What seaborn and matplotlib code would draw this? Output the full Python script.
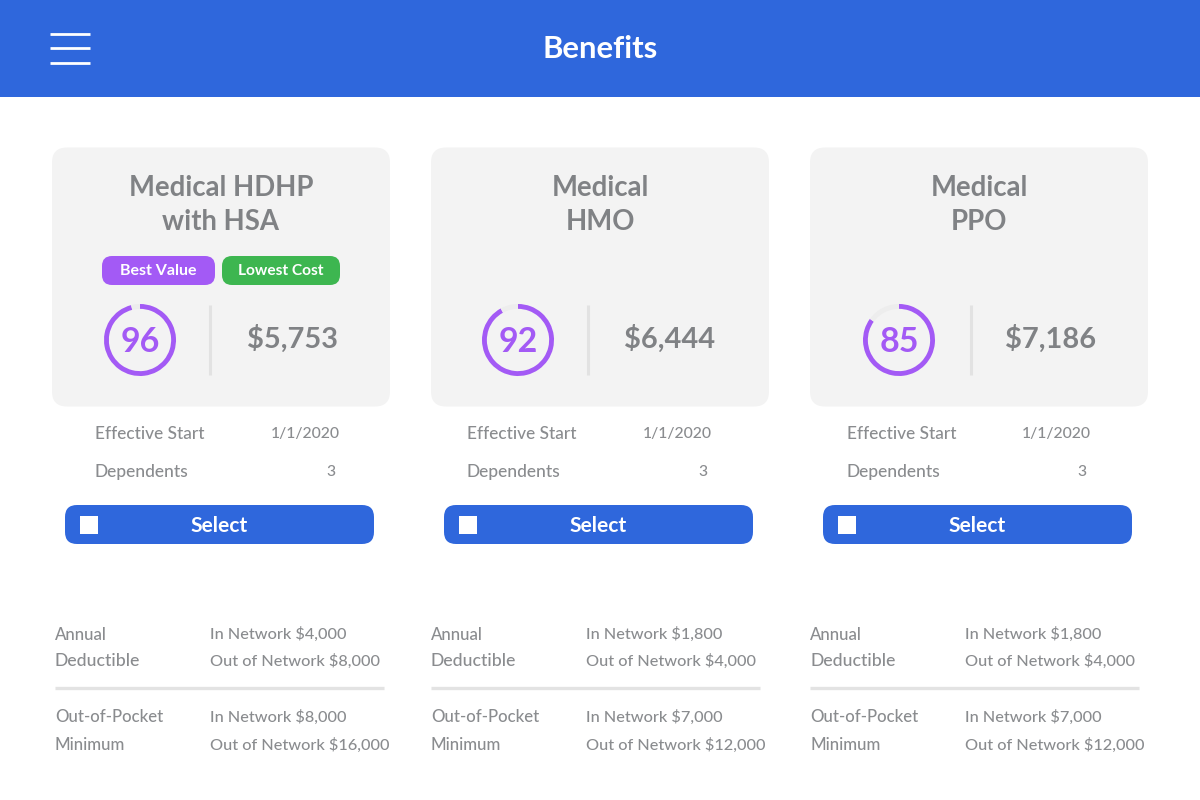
import matplotlib
matplotlib.use("Agg")
import matplotlib.pyplot as plt
from matplotlib.patches import FancyBboxPatch, Rectangle
import seaborn as sns

# ---- data ----
plan_titles = [["Medical HDHP", "with HSA"], ["Medical", "HMO"], ["Medical", "PPO"]]
scores = [96, 92, 85]
prices = ["$5,753", "$6,444", "$7,186"]
effective_start = ["1/1/2020", "1/1/2020", "1/1/2020"]
dependents = [3, 3, 3]
deductible_in = ["$4,000", "$1,800", "$1,800"]
deductible_out = ["$8,000", "$4,000", "$4,000"]
oop_in = ["$8,000", "$7,000", "$7,000"]
oop_out = ["$16,000", "$12,000", "$12,000"]
badges = [["Best Value", "Lowest Cost"], [], []]

# ---- style ----
sns.set_theme(style="white")
plt.rcParams["font.family"] = ["Lato", "DejaVu Sans"]
BLUE = "#2f67dc"; PURPLE = "#a35af5"; GREEN = "#3db650"
CARD = "#f3f3f3"; GREY = "#808285"; GREY2 = "#8a8c8f"; RULE = "#e3e3e3"; TRACK = "#ededed"
W, H = 1200, 800
fs = lambda px: px * 0.72

fig = plt.figure(figsize=(12, 8), dpi=100, facecolor="white")
ax = fig.add_axes([0, 0, 1, 1])
ax.set_xlim(0, W); ax.set_ylim(H, 0); ax.axis("off")

def rbox(x0, y0, x1, y1, r, color, z=1):
    ax.add_patch(FancyBboxPatch((x0 + r, y0 + r), x1 - x0 - 2 * r, y1 - y0 - 2 * r,
                                boxstyle=f"round,pad={r},rounding_size={r}",
                                fc=color, ec="none", zorder=z))

def txt(x, y, s, px, color=GREY, ha="left", weight=500):
    ax.text(x, y, s, fontsize=fs(px), color=color, ha=ha, va="center_baseline",
            weight=weight, zorder=5)

# header
ax.add_patch(Rectangle((0, 0), W, 97, fc=BLUE, ec="none"))
for yy in (34, 48, 62.5):
    ax.plot([50, 90], [yy, yy], color="white", lw=2.0, solid_capstyle="butt")
txt(600, 46, "Benefits", 31, "white", "center", "bold")

card_x = [52, 431, 810]
gauge_x = [140, 518, 899]
div_x = [210, 588, 971]
price_x = [292, 670, 1051]
label_x = [95, 467, 847]
date_x = [305, 677, 1056]
dep_x = [331, 703, 1082]
btn_x = [65, 444, 823]
tbl_x = [55, 431, 810]
val_x = [210, 586, 965]

for i in range(3):
    cx = card_x[i]
    rbox(cx, 147.5, cx + 338, 406.5, 15, CARD)
    mid = cx + 169
    txt(mid, 185.5, plan_titles[i][0], 27.5, GREY, "center", "bold")
    txt(mid, 220, plan_titles[i][1], 27.5, GREY, "center", "bold")

    # gauge from score
    g = ax.inset_axes([(gauge_x[i] - 36) / W, 1 - (340 + 36) / H, 72 / W, 72 / H],
                      transform=fig.transFigure)
    g.pie([scores[i], 100 - scores[i]], colors=[PURPLE, TRACK], startangle=90,
          counterclock=False, radius=1.0, wedgeprops=dict(width=0.135, ec="none"))
    g.set_xlim(-1, 1); g.set_ylim(-1, 1); g.set_aspect("equal"); g.patch.set_alpha(0)
    txt(gauge_x[i], 339.5, str(scores[i]), 34, PURPLE, "center", "bold")

    ax.plot([div_x[i], div_x[i]], [305, 375], color="#e2e2e2", lw=2.2, solid_capstyle="butt", zorder=3)
    txt(price_x[i], 336, prices[i], 29, GREY, "center", "bold")

    txt(label_x[i], 432.5, "Effective Start", 17.2, GREY2)
    txt(label_x[i], 471, "Dependents", 17.4, GREY2)
    txt(date_x[i], 432.5, effective_start[i], 15.8, GREY2, "center")
    txt(dep_x[i], 471, str(dependents[i]), 15.8, GREY2, "center")

    bx = btn_x[i]
    rbox(bx, 505, bx + 309, 544, 12, BLUE)
    ax.add_patch(Rectangle((bx + 15, 516), 18, 18, fc="white", ec="none", zorder=4))
    txt(bx + 154.5, 524.5, "Select", 21, "white", "center", "bold")

    tx, vx = tbl_x[i], val_x[i]
    txt(tx, 633, "Annual", 16.8, GREY2)
    txt(tx, 659.5, "Deductible", 17.6, GREY2)
    txt(vx, 633, f"In Network {deductible_in[i]}", 16.2, GREY2)
    txt(vx, 660, f"Out of Network {deductible_out[i]}", 16.2, GREY2)
    ax.plot([tx, tx + 329], [687.5, 687.5], color=RULE, lw=2.4, solid_capstyle="butt")
    txt(tx, 716, "Out-of-Pocket", 16.8, GREY2)
    txt(tx, 743, "Minimum", 16.8, GREY2)
    txt(vx, 716, f"In Network {oop_in[i]}", 16.2, GREY2)
    txt(vx, 743.5, f"Out of Network {oop_out[i]}", 16.2, GREY2)

# badges
if badges[0]:
    rbox(102, 256, 215, 285, 10, PURPLE, 3)
    rbox(222, 256, 340, 285, 10, GREEN, 3)
    txt(158.5, 269.5, badges[0][0], 16, "white", "center", "bold")
    txt(281, 269.5, badges[0][1], 15.5, "white", "center", "bold")

fig.savefig("out.png", dpi=100, facecolor="white")
